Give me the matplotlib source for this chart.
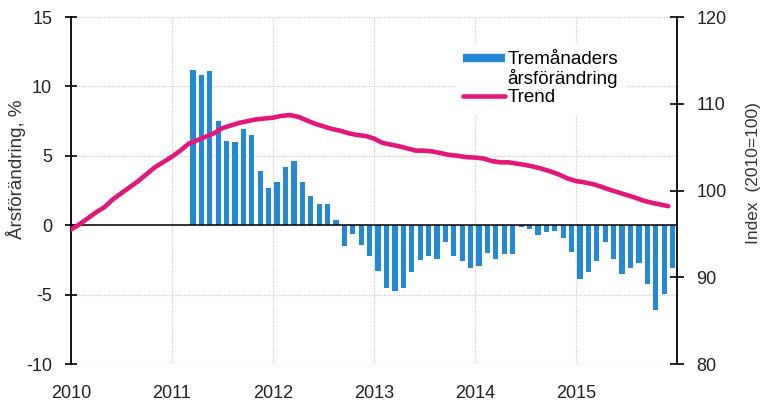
import numpy as np
import matplotlib
matplotlib.use('Agg')
import matplotlib.pyplot as plt
from matplotlib.lines import Line2D

plt.rcParams['font.family'] = ['Liberation Sans', 'DejaVu Sans']
plt.rcParams['axes.unicode_minus'] = False

#%% data
# trend index (2010=100), monthly Jan 2010 - Dec 2015
trend = [95.5, 96.1, 96.8, 97.5, 98.1, 99.0, 99.7, 100.4, 101.1, 101.9, 102.7, 103.3,
         103.9, 104.6, 105.4, 105.8, 106.2, 106.6, 107.2, 107.5, 107.8, 108.0, 108.2, 108.3,
         108.4, 108.6, 108.7, 108.5, 108.1, 107.7, 107.4, 107.1, 106.9, 106.6, 106.4, 106.3,
         106.0, 105.5, 105.3, 105.1, 104.85, 104.6, 104.6, 104.5, 104.3, 104.1, 104.0, 103.85,
         103.8, 103.7, 103.4, 103.25, 103.25, 103.1, 102.95, 102.75, 102.5, 102.2, 101.85, 101.4,
         101.1, 100.95, 100.75, 100.45, 100.1, 99.8, 99.5, 99.2, 98.85, 98.6, 98.4, 98.2]

# tremånaders årsförändring, %, monthly Mar 2011 - Dec 2015
forandring = [11.2, 10.8, 11.1, 7.5, 6.1, 6.0, 6.9, 6.5, 3.9, 2.7,
              3.1, 4.2, 4.6, 3.1, 2.1, 1.5, 1.5, 0.4, -1.5, -0.6, -1.4, -2.2,
              -3.3, -4.5, -4.7, -4.5, -3.4, -2.5, -2.2, -2.4, -1.2, -2.2, -2.6, -3.1,
              -2.95, -2.0, -2.4, -2.1, -2.1, -0.15, -0.25, -0.7, -0.45, -0.4, -0.95, -1.9,
              -3.9, -3.4, -2.6, -1.2, -2.4, -3.5, -3.1, -2.7, -4.2, -6.1, -4.95, -3.1]

ar = [2010, 2011, 2012, 2013, 2014, 2015]

x_trend = 2010 + np.arange(len(trend)) / 12
x_bar = 2011 + (2 + np.arange(len(forandring)) + 0.5) / 12

blue = '#2389d4'
pink = '#e2177b'

#%% plot
fig = plt.figure(figsize=(7.63, 4.05), dpi=100)
ax = fig.add_axes([0.093, 0.101, 0.794, 0.857])
ax2 = ax.twinx()

ax.bar(x_bar, forandring, width=0.62 / 12, color=blue, zorder=2)
ax.axhline(0, color='black', lw=1.1, zorder=3)
ax2.plot(x_trend, trend, color=pink, lw=3.3, solid_capstyle='round')

ax.set_xlim(2010, 2016)
ax.set_ylim(-10, 15)
ax.set_yticks([-10, -5, 0, 5, 10, 15])
ax.set_xticks(ar)
ax.set_xticklabels([str(a) for a in ar])
ax2.set_ylim(80, 120)
ax2.set_yticks([80, 90, 100, 110, 120])

ax.grid(True, color='#cccccc', linestyle=(0, (1, 1)), lw=0.9, zorder=0)
ax.set_axisbelow(True)

for s in ['top', 'bottom']:
    ax.spines[s].set_visible(False)
    ax2.spines[s].set_visible(False)
ax2.spines['left'].set_visible(False)
ax.spines['right'].set_visible(False)
ax.spines['left'].set_linewidth(1.3)
ax2.spines['right'].set_linewidth(1.3)

ax.tick_params(axis='x', length=0, labelsize=13, pad=15, colors='#222222')
ax.tick_params(axis='y', direction='inout', length=9, width=1.2, labelsize=13, pad=9,
               labelcolor='#222222')
ax2.tick_params(axis='y', direction='inout', length=10, width=1.2, labelsize=13, pad=9,
                labelcolor='#222222')

ax.set_ylabel('Årsförändring, %', fontsize=13.5, color='#333333')
ax.yaxis.set_label_coords(-0.075, 0.56)
ax2.set_ylabel('Index  (2010=100)', fontsize=12.5, color='#333333')
ax2.yaxis.set_label_coords(1.115, 0.55)

# legend: blue handle aligned with first text row
h_bar = Line2D([], [], color=blue, lw=6, solid_capstyle='butt')
h_tom = Line2D([], [], color='none')
h_trend = Line2D([], [], color=pink, lw=3.3, solid_capstyle='round')
leg = ax2.legend([h_bar, h_tom, h_trend], ['Tremånaders', 'årsförändring', 'Trend'],
                 loc='upper left', bbox_to_anchor=(0.62, 0.95), fontsize=13.5, frameon=True,
                 handlelength=2.2, handletextpad=0.15, labelspacing=0.05,
                 borderpad=0.4, fancybox=False)
leg.get_frame().set_edgecolor('white')
leg.get_frame().set_alpha(1)

plt.savefig('out.png', dpi=100)
